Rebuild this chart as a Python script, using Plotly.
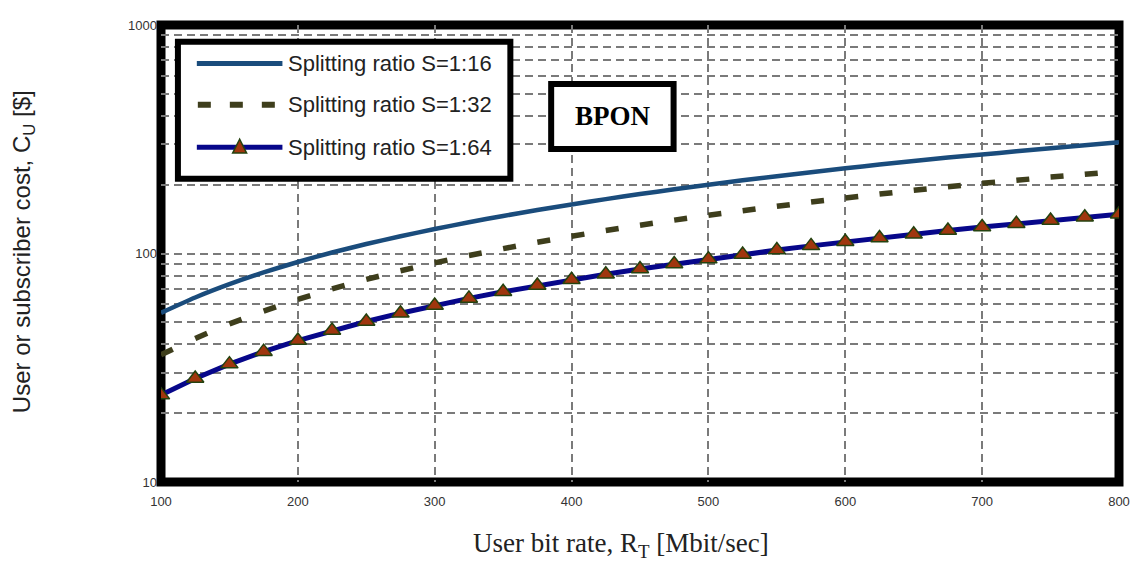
import plotly.graph_objects as go

# ---------------- data ----------------
rates = [100, 125, 150, 175, 200, 225, 250, 275, 300, 325, 350, 375, 400, 425, 450,
         475, 500, 525, 550, 575, 600, 625, 650, 675, 700, 725, 750, 775, 800]
cost_s16 = [55, 64.2, 73.4, 82.6, 91.8, 101, 110, 119, 128, 137, 146, 155, 164, 173, 182,
            191, 200, 209, 218, 227, 236, 245, 254, 263, 271, 280, 289, 298, 307]
cost_s32 = [36, 42.5, 49.2, 56, 63, 70, 77, 84, 91, 98, 105, 112, 119, 126, 133,
            140, 147, 154, 161, 168, 175, 182, 189, 196, 203, 209, 216, 222, 229]
cost_s64 = [24, 28.4, 32.8, 37.2, 41.6, 46, 50.4, 54.8, 59.2, 63.6, 68, 72.4, 76.8, 81.2, 85.6,
            90, 94.5, 99, 103.5, 108, 112.5, 117, 121.5, 126, 130.5, 135, 139.5, 144, 148.5]
series_names = ["Splitting ratio S=1:16", "Splitting ratio S=1:32", "Splitting ratio S=1:64"]
x_ticks = [100, 200, 300, 400, 500, 600, 700, 800]
y_ticks = [10, 20, 30, 40, 50, 60, 70, 80, 90,
           100, 200, 300, 400, 500, 600, 700, 800, 900, 1000]
y_ticktext = ["10", "", "", "", "", "", "", "", "",
              "100", "", "", "", "", "", "", "", "", "1000"]

# ---------------- style ----------------
C16 = "#1a4c7c"
C32 = "#3e3e1c"
C64 = "#07078a"
TRI_FILL = "#a0360e"
TRI_EDGE = "#24420f"

OFF = 8  # page body margin of the browser
W, H = 1140 - OFF, 563 - OFF
L, R, T, B = 161 - OFF, 16.5, 18 - OFF, 81
PW, PH = W - L - R, H - T - B


def px(xp):
    """reference-window pixel x -> paper x"""
    return (xp - OFF - L) / PW


def py(yp):
    """reference-window pixel y -> paper y"""
    return (H - B - (yp - OFF)) / PH


fig = go.Figure()

fig.add_trace(go.Scatter(x=rates, y=cost_s16, mode="lines", name=series_names[0],
                         line=dict(color=C16, width=4.5, shape="spline", smoothing=0.6),
                         showlegend=False))

# dashed series: dash pattern restarts at each data point
for i in range(len(rates) - 1):
    fig.add_trace(go.Scatter(x=[rates[i], rates[i + 1]], y=[cost_s32[i], cost_s32[i + 1]],
                             mode="lines", name=series_names[1],
                             line=dict(color=C32, width=5.5, dash="13px,400px"),
                             showlegend=False))

fig.add_trace(go.Scatter(x=rates, y=cost_s64, mode="lines+markers", name=series_names[2],
                         line=dict(color=C64, width=5),
                         marker=dict(symbol="triangle-up", size=15, color=TRI_FILL,
                                     line=dict(color=TRI_EDGE, width=1.5)),
                         showlegend=False))

grid = dict(showgrid=True, gridcolor="#7a7a7a", gridwidth=1.5, griddash="8px,5px")

fig.update_xaxes(range=[100, 800], tickvals=x_ticks, ticks="", zeroline=False,
                 tickfont=dict(family="Liberation Sans, Arial", size=13, color="#333"),
                 ticklabelstandoff=10, **grid)
fig.update_yaxes(type="log", range=[1, 3], tickvals=y_ticks, ticktext=y_ticktext,
                 ticks="", zeroline=False,
                 tickfont=dict(family="Liberation Sans, Arial", size=13, color="#333"),
                 ticklabelstandoff=3, **grid)

shapes = []
# thick plot frame
shapes.append(dict(type="rect", xref="paper", yref="paper", x0=0, x1=1, y0=0, y1=1,
                   line=dict(color="black", width=9), layer="between"))

# legend box
shapes.append(dict(type="rect", xref="paper", yref="paper",
                   x0=px(178), x1=px(512), y0=py(174), y1=py(35),
                   line=dict(color="black", width=6), fillcolor="white", layer="above"))
rows = [57, 99, 142]
shapes.append(dict(type="line", xref="paper", yref="paper",
                   x0=px(197), x1=px(283), y0=py(rows[0]), y1=py(rows[0]),
                   line=dict(color=C16, width=5), layer="above"))
shapes.append(dict(type="line", xref="paper", yref="paper",
                   x0=px(198), x1=px(276), y0=py(rows[1]), y1=py(rows[1]),
                   line=dict(color=C32, width=6, dash="13px,19px"), layer="above"))
shapes.append(dict(type="line", xref="paper", yref="paper",
                   x0=px(197), x1=px(283), y0=py(rows[2]), y1=py(rows[2]),
                   line=dict(color=C64, width=5), layer="above"))
tx, ty = 240, rows[2]
shapes.append(dict(type="path", xref="paper", yref="paper",
                   path=f"M {px(tx)},{py(ty-8)} L {px(tx-7)},{py(ty+6)} L {px(tx+7)},{py(ty+6)} Z",
                   fillcolor=TRI_FILL, line=dict(color=TRI_EDGE, width=1.5), layer="above"))

# BPON box
shapes.append(dict(type="rect", xref="paper", yref="paper",
                   x0=px(553), x1=px(676), y0=py(144), y1=py(78),
                   line=dict(color="black", width=6), fillcolor="white", layer="above"))

annotations = []
for name, r in zip(series_names, rows):
    annotations.append(dict(text=name, xref="paper", yref="paper", x=px(287), y=py(r),
                            xanchor="left", yanchor="middle", showarrow=False,
                            font=dict(family="Liberation Sans, Arial", size=22, color="#222")))
annotations.append(dict(text="<b>BPON</b>", xref="paper", yref="paper", x=px(615), y=py(110),
                        xanchor="center", yanchor="middle", showarrow=False,
                        font=dict(family="Liberation Serif, Times New Roman", size=27, color="black")))
annotations.append(dict(text="User or subscriber cost, C<sub>U</sub> [$]", xref="paper", yref="paper",
                        x=px(23), y=py(248), xanchor="center", yanchor="middle", textangle=-90,
                        showarrow=False,
                        font=dict(family="Liberation Sans, Arial", size=24, color="#222")))
annotations.append(dict(text="User bit rate, R<sub>T</sub> [Mbit/sec]", xref="paper", yref="paper",
                        x=px(623), y=py(546), xanchor="center", yanchor="middle",
                        showarrow=False,
                        font=dict(family="Liberation Serif, Times New Roman", size=27, color="#222")))

fig.update_layout(width=W, height=H, margin=dict(l=L, r=R, t=T, b=B, pad=0),
                  paper_bgcolor="white", plot_bgcolor="white",
                  shapes=shapes, annotations=annotations, showlegend=False)

fig.write_html("out.html")
